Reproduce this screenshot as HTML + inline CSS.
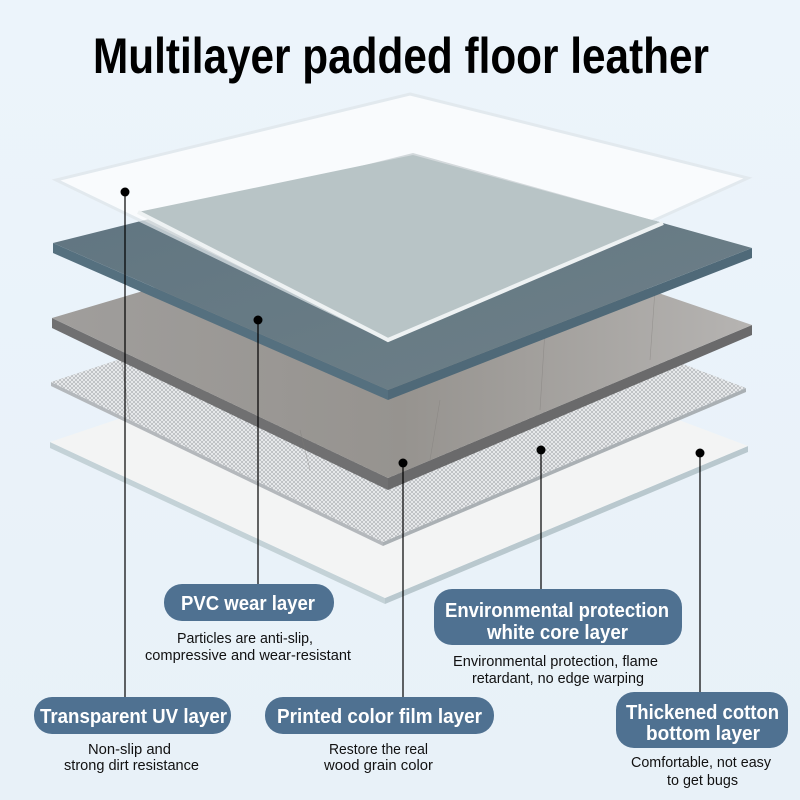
<!DOCTYPE html>
<html><head><meta charset="utf-8"><style>html,body{margin:0;padding:0;background:#eaf3fa}svg{display:block}</style></head>
<body>
<svg width="800" height="800" viewBox="0 0 800 800" xmlns="http://www.w3.org/2000/svg" font-family="Liberation Sans, sans-serif">
<defs>
<linearGradient id="bg" x1="0" y1="0" x2="0" y2="1"><stop offset="0" stop-color="#ecf4fb"/><stop offset="1" stop-color="#e8f1f8"/></linearGradient>
<pattern id="mesh" width="4" height="4" patternUnits="userSpaceOnUse">
<rect width="4" height="4" fill="#e6e8ea"/><path d="M0 0L4 4M4 0L0 4" stroke="#9a9ea2" stroke-width="0.5"/></pattern>
<linearGradient id="blue" x1="0" y1="0" x2="1" y2="1"><stop offset="0" stop-color="#5f7480"/><stop offset="1" stop-color="#6e8088"/></linearGradient>
<linearGradient id="wood" x1="0" y1="0" x2="1" y2="0"><stop offset="0" stop-color="#a09e9c"/><stop offset="0.5" stop-color="#96938f"/><stop offset="1" stop-color="#b6b4b2"/></linearGradient>
</defs>
<rect width="800" height="800" fill="url(#bg)"/>
<text x="93" y="73" font-size="50" font-weight="bold" textLength="616" lengthAdjust="spacingAndGlyphs" fill="#000">Multilayer padded floor leather</text>

<!-- cotton -->
<polygon points="50,442 385,598 385,604 50,448" fill="#c4d2d7"/>
<polygon points="385,598 748,446 748,452 385,604" fill="#b9c8ce"/>
<polygon points="413,320 748,446 385,598 50,442" fill="#f3f4f4"/>
<!-- mesh -->
<polygon points="51,382 383,542 383,546 51,386" fill="#b4b8bc"/>
<polygon points="383,542 746,388 746,392 383,546" fill="#aab0b4"/>
<polygon points="414,262 746,388 383,542 51,382" fill="url(#mesh)"/>
<!-- wood -->
<polygon points="52,318 388,478 388,490 52,328" fill="#707071"/>
<polygon points="388,478 752,325 752,335 388,490" fill="#6a6a6b"/>
<polygon points="416,210 752,325 388,478 52,318" fill="url(#wood)"/>
<g stroke="#7e7a78" stroke-width="0.6" opacity="0.5"><line x1="120" y1="350" x2="130" y2="420"/><line x1="300" y1="430" x2="310" y2="470"/><line x1="430" y1="460" x2="440" y2="400"/><line x1="540" y1="410" x2="545" y2="330"/><line x1="650" y1="360" x2="655" y2="290"/></g>
<!-- blue -->
<polygon points="53,243 388,390 388,400 53,253" fill="#55707f"/>
<polygon points="388,390 752,248 752,258 388,400" fill="#4f6978"/>
<polygon points="413,153 752,248 388,390 53,243" fill="url(#blue)"/>
<!-- transparent -->
<polygon points="410,94 748,178 388,340 56,180" fill="#ffffff" opacity="0.72" stroke="#dfe6ea" stroke-width="3"/>
<polygon points="413,155 663,223 388,340 138,212" fill="#b8c4c6"/>
<polyline points="138,212 388,340 663,223" fill="none" stroke="#eef2f3" stroke-width="4"/>

<!-- connectors -->
<g stroke="#000" stroke-width="1.2">
<line x1="125" y1="192" x2="125" y2="697"/>
<line x1="258" y1="320" x2="258" y2="584"/>
<line x1="403" y1="463" x2="403" y2="697"/>
<line x1="541" y1="450" x2="541" y2="589"/>
<line x1="700" y1="453" x2="700" y2="692"/>
</g>
<g fill="#000"><circle cx="125" cy="192" r="4.5"/><circle cx="258" cy="320" r="4.5"/><circle cx="403" cy="463" r="4.5"/><circle cx="541" cy="450" r="4.5"/><circle cx="700" cy="453" r="4.5"/></g>

<!-- pills -->
<g fill="#4f7191">
<rect x="164" y="584" width="170" height="37" rx="18"/>
<rect x="434" y="589" width="248" height="56" rx="18"/>
<rect x="34" y="697" width="197" height="37" rx="18"/>
<rect x="265" y="697" width="229" height="37" rx="18"/>
<rect x="616" y="692" width="172" height="56" rx="18"/>
</g>
<g fill="#fff" font-weight="bold" font-size="20">
<text x="181" y="610" textLength="134" lengthAdjust="spacingAndGlyphs">PVC wear layer</text>
<text x="445" y="617" textLength="224" lengthAdjust="spacingAndGlyphs">Environmental protection</text>
<text x="487" y="639" textLength="141" lengthAdjust="spacingAndGlyphs">white core layer</text>
<text x="40" y="723" textLength="187" lengthAdjust="spacingAndGlyphs">Transparent UV layer</text>
<text x="277" y="723" textLength="205" lengthAdjust="spacingAndGlyphs">Printed color film layer</text>
<text x="626" y="719" textLength="153" lengthAdjust="spacingAndGlyphs">Thickened cotton</text>
<text x="646" y="740" textLength="114" lengthAdjust="spacingAndGlyphs">bottom layer</text>
</g>
<g fill="#111" font-size="15">
<text x="177" y="643" textLength="136" lengthAdjust="spacingAndGlyphs">Particles are anti-slip,</text>
<text x="145" y="660" textLength="206" lengthAdjust="spacingAndGlyphs">compressive and wear-resistant</text>
<text x="453" y="666" textLength="205" lengthAdjust="spacingAndGlyphs">Environmental protection, flame</text>
<text x="472" y="683" textLength="172" lengthAdjust="spacingAndGlyphs">retardant, no edge warping</text>
<text x="88" y="754" textLength="83" lengthAdjust="spacingAndGlyphs">Non-slip and</text>
<text x="64" y="770" textLength="135" lengthAdjust="spacingAndGlyphs">strong dirt resistance</text>
<text x="329" y="754" textLength="99" lengthAdjust="spacingAndGlyphs">Restore the real</text>
<text x="324" y="770" textLength="109" lengthAdjust="spacingAndGlyphs">wood grain color</text>
<text x="631" y="767" textLength="140" lengthAdjust="spacingAndGlyphs">Comfortable, not easy</text>
<text x="667" y="785" textLength="71" lengthAdjust="spacingAndGlyphs">to get bugs</text>
</g>
</svg>
</body></html>
